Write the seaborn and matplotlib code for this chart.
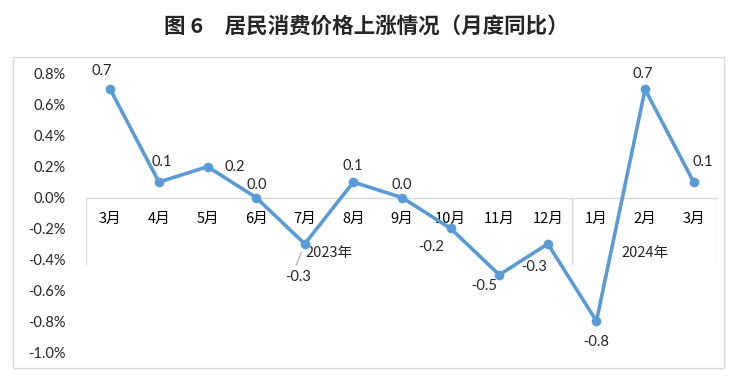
import matplotlib
matplotlib.use("Agg")
import matplotlib.pyplot as plt
from matplotlib.patches import Rectangle
import seaborn as sns
import pandas as pd

# data
months = ["3月", "4月", "5月", "6月", "7月", "8月", "9月", "10月", "11月", "12月", "1月", "2月", "3月"]
cpi_mom = [0.7, 0.1, 0.2, 0.0, -0.3, 0.1, 0.0, -0.2, -0.5, -0.3, -0.8, 0.7, 0.1]
years = ["2023年", "2024年"]
year_sizes = [10, 3]
title = "图 6　居民消费价格上涨情况（月度同比）"

sns.set_theme(style="white")
plt.rcParams['font.family'] = ['Lato', 'Noto Sans CJK SC', 'DejaVu Sans']

df = pd.DataFrame({"pos": range(len(months)), "val": cpi_mom})

fig = plt.figure(figsize=(7.33, 3.89), dpi=100)
ax = fig.add_axes([86/733, 1-352/389, 632/733, 278/389])

blue = "#5B9BD5"
grey = "#D9D9D9"
sns.lineplot(data=df, x="pos", y="val", ax=ax, color=blue, linewidth=2.6,
             marker="o", markersize=7, markeredgewidth=0, zorder=3)

ax.set_xlim(-0.5, len(months) - 0.5)
ax.set_ylim(-1.0, 0.8)
ax.set_yticks([i / 10 for i in range(-10, 9, 2)])
ax.set_yticklabels([f"{t:.1f}%" for t in ax.get_yticks()], fontsize=10.5)
ax.tick_params(axis="y", length=0, pad=15)
ax.set_xticks([])
ax.set_xlabel("")
ax.set_ylabel("")
for s in ax.spines.values():
    s.set_visible(False)

# category axis drawn at zero
ax.axhline(0, color=grey, linewidth=1, zorder=1)
px = 1.8 / 278
for i, m in enumerate(months):
    ax.text(i, -21 * px, m, ha="center", va="center", fontsize=10.5, color="black",
            family=['Noto Sans CJK SC', 'DejaVu Sans'], zorder=2)

# group separators and year labels
start = -0.5
for name, n in zip(years, year_sizes):
    ax.plot([start, start], [0, -66 * px], color=grey, linewidth=1, zorder=1)
    ax.text(start + n / 2, -55 * px, name, ha="center", va="center", fontsize=10.5,
            family=['Noto Sans CJK SC', 'DejaVu Sans'], zorder=2)
    start += n
ax.plot([start, start], [0, -66 * px], color=grey, linewidth=1, zorder=1)

# data labels (offsets in pixels)
offsets = [(-9, 18), (3, 20), (27, 0), (1, 13), (-7, -33), (-1, 16), (0, 13),
           (-20, -19), (-15, -11), (-14, -23), (0, -21), (-2, 15), (9, 20)]
for i, (v, (dx, dy)) in enumerate(zip(cpi_mom, offsets)):
    ax.annotate(f"{v:.1f}", (i, v), xytext=(dx * 0.72, dy * 0.72), textcoords="offset points",
                ha="center", va="center", fontsize=10.5, zorder=4)

# leader line for the 7月 label
ax.annotate("", (4 - 0.05, -0.3 - 6 * px), xytext=(4 - 0.2, -0.3 - 24 * px),
            arrowprops=dict(arrowstyle="-", color="#A6A6A6", linewidth=0.8))

fig.text(0.5, 1 - 26 / 389, title, ha="center", va="center", fontsize=15.5,
         fontweight="bold", family=['Noto Sans CJK SC', 'DejaVu Sans'])

fig.patches.append(Rectangle((13/733, 1-368/389), 711/733, 311/389, transform=fig.transFigure,
                             fill=False, edgecolor=grey, linewidth=1))

fig.savefig("out.png", dpi=100)
